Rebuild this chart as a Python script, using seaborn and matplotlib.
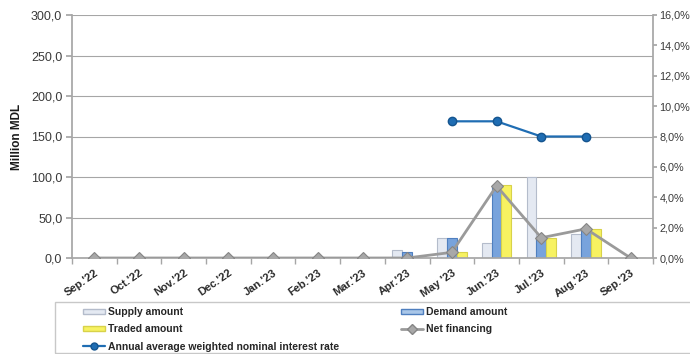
import numpy as np
import pandas as pd
import seaborn as sns
import matplotlib
matplotlib.use("Agg")
import matplotlib.pyplot as plt
from matplotlib.patches import Rectangle, Patch
from matplotlib.lines import Line2D
from matplotlib.ticker import FuncFormatter, MultipleLocator

months = ["Sep.'22", "Oct.'22", "Nov.'22", "Dec.'22", "Jan.'23", "Feb.'23", "Mar.'23",
          "Apr.'23", "May '23", "Jun.'23", "Jul.'23", "Aug.'23", "Sep.'23"]
supply = [0, 0, 0, 0, 0, 0, 0, 10, 25, 19, 100, 30, 0]
demand = [0, 0, 0, 0, 0, 0, 0, 8, 25, 90, 25, 36, 0]
traded = [0, 0, 0, 0, 0, 0, 0, 0, 7, 90, 25, 36, 0]
net_financing = [0, 0, 0, 0, 0, 0, 0, 0, 7, 89, 25, 36, 0]
interest_rate = [np.nan] * 8 + [9.0, 9.0, 8.0, 8.0] + [np.nan]

series_names = ["Supply amount", "Demand amount", "Traded amount"]
colors = {"Supply amount": "#e4e9f2", "Demand amount": "#78a3dc", "Traded amount": "#f7f261"}
edges = {"Supply amount": "#b4bccb", "Demand amount": "#4f7fbf", "Traded amount": "#d8d24a"}

df = pd.DataFrame({
    "month": months * 3,
    "value": supply + demand + traded,
    "series": [s for s in series_names for _ in months],
})

sns.set_theme(style="white")
plt.rcParams["font.family"] = ["Liberation Sans", "DejaVu Sans"]

fig = plt.figure(figsize=(6.9, 3.54), dpi=100)
ax = fig.add_axes([72 / 690, 1 - 258 / 354, (653 - 72) / 690, (258 - 15) / 354])

sns.barplot(data=df, x="month", y="value", hue="series", hue_order=series_names,
            palette=colors, width=0.66, ax=ax, legend=False, saturation=1)
for cont, name in zip(ax.containers, series_names):
    for bar in cont:
        bar.set_edgecolor(edges[name])
        bar.set_linewidth(0.8)

x = np.arange(len(months))
ax.plot(x, net_financing, color="#9a9a9a", lw=2, marker="D", ms=6,
        mfc="#a8a8a8", mec="#858585", mew=0.8, zorder=5)

ax.set_ylim(0, 300)
ax.set_xlim(-0.5, len(months) - 0.5)
ax.yaxis.set_major_locator(MultipleLocator(50))
ax.yaxis.set_major_formatter(FuncFormatter(lambda v, p: f"{v:.1f}".replace(".", ",")))
ax.grid(axis="y", color="#a6a6a6", lw=0.8)
ax.set_axisbelow(True)
ax.set_xlabel("")
ax.set_ylabel("Million MDL", fontsize=8.5, fontweight="bold", color="#1a1a1a", labelpad=6)
ax.tick_params(axis="y", labelsize=9, colors="#3a3a3a", length=4, color="#a6a6a6",
               direction="out", left=True, pad=3)
ax.set_xticks(x)
ax.set_xticklabels(months, rotation=35, ha="right", rotation_mode="anchor",
                   fontsize=8, fontweight="bold", color="#2a2a2a")
ax.tick_params(axis="x", length=0, pad=7)
ax.set_xticks(np.arange(len(months) + 1) - 0.5, minor=True)
ax.tick_params(axis="x", which="minor", length=4, color="#a6a6a6", bottom=True)
for side in ["left", "bottom"]:
    ax.spines[side].set_color("#a6a6a6")
ax.spines["top"].set_visible(False)
ax.spines["right"].set_visible(False)

ax2 = ax.twinx()
ax2.plot(x, interest_rate, color="#1f6db3", lw=1.6, marker="o", ms=6,
         mfc="#1f6db3", mec="#15558f", zorder=6)
ax2.set_ylim(0, 16)
ax2.yaxis.set_major_locator(MultipleLocator(2))
ax2.yaxis.set_major_formatter(FuncFormatter(lambda v, p: f"{v:.1f}%".replace(".", ",")))
ax2.tick_params(axis="y", labelsize=7.8, colors="#3a3a3a", length=3, color="#a6a6a6",
                right=True, pad=1.5)
ax2.grid(False)
for side in ["top", "left", "bottom"]:
    ax2.spines[side].set_visible(False)
ax2.spines["right"].set_color("#a6a6a6")

# legend box
fig.patches.append(Rectangle((55 / 690, 1 - 353 / 354), 640 / 690, 51 / 354,
                             transform=fig.transFigure, fill=False, ec="#c8c8c8", lw=1))
handles = [
    Patch(fc=colors["Supply amount"], ec=edges["Supply amount"]),
    Patch(fc=colors["Traded amount"], ec=edges["Traded amount"]),
    Line2D([], [], color="#1f6db3", lw=1.6, marker="o", ms=5, mfc="#1f6db3", mec="#15558f"),
    Patch(fc="#a9c6e8", ec=edges["Demand amount"]),
    Line2D([], [], color="#9a9a9a", lw=2, marker="D", ms=5, mfc="#a8a8a8", mec="#858585"),
]
labels = ["Supply amount", "Traded amount", "Annual average weighted nominal interest rate",
          "Demand amount", "Net financing"]
fig.legend(handles, labels, loc="upper left", bbox_to_anchor=(81 / 690, 1 - 305 / 354),
           ncol=2, frameon=False, prop={"weight": "bold", "size": 7.5},
           handlelength=2.1, handleheight=0.4, handletextpad=0.25, labelspacing=0.7,
           columnspacing=6.0, borderpad=0.2, borderaxespad=0)

fig.savefig("out.png", dpi=100)
